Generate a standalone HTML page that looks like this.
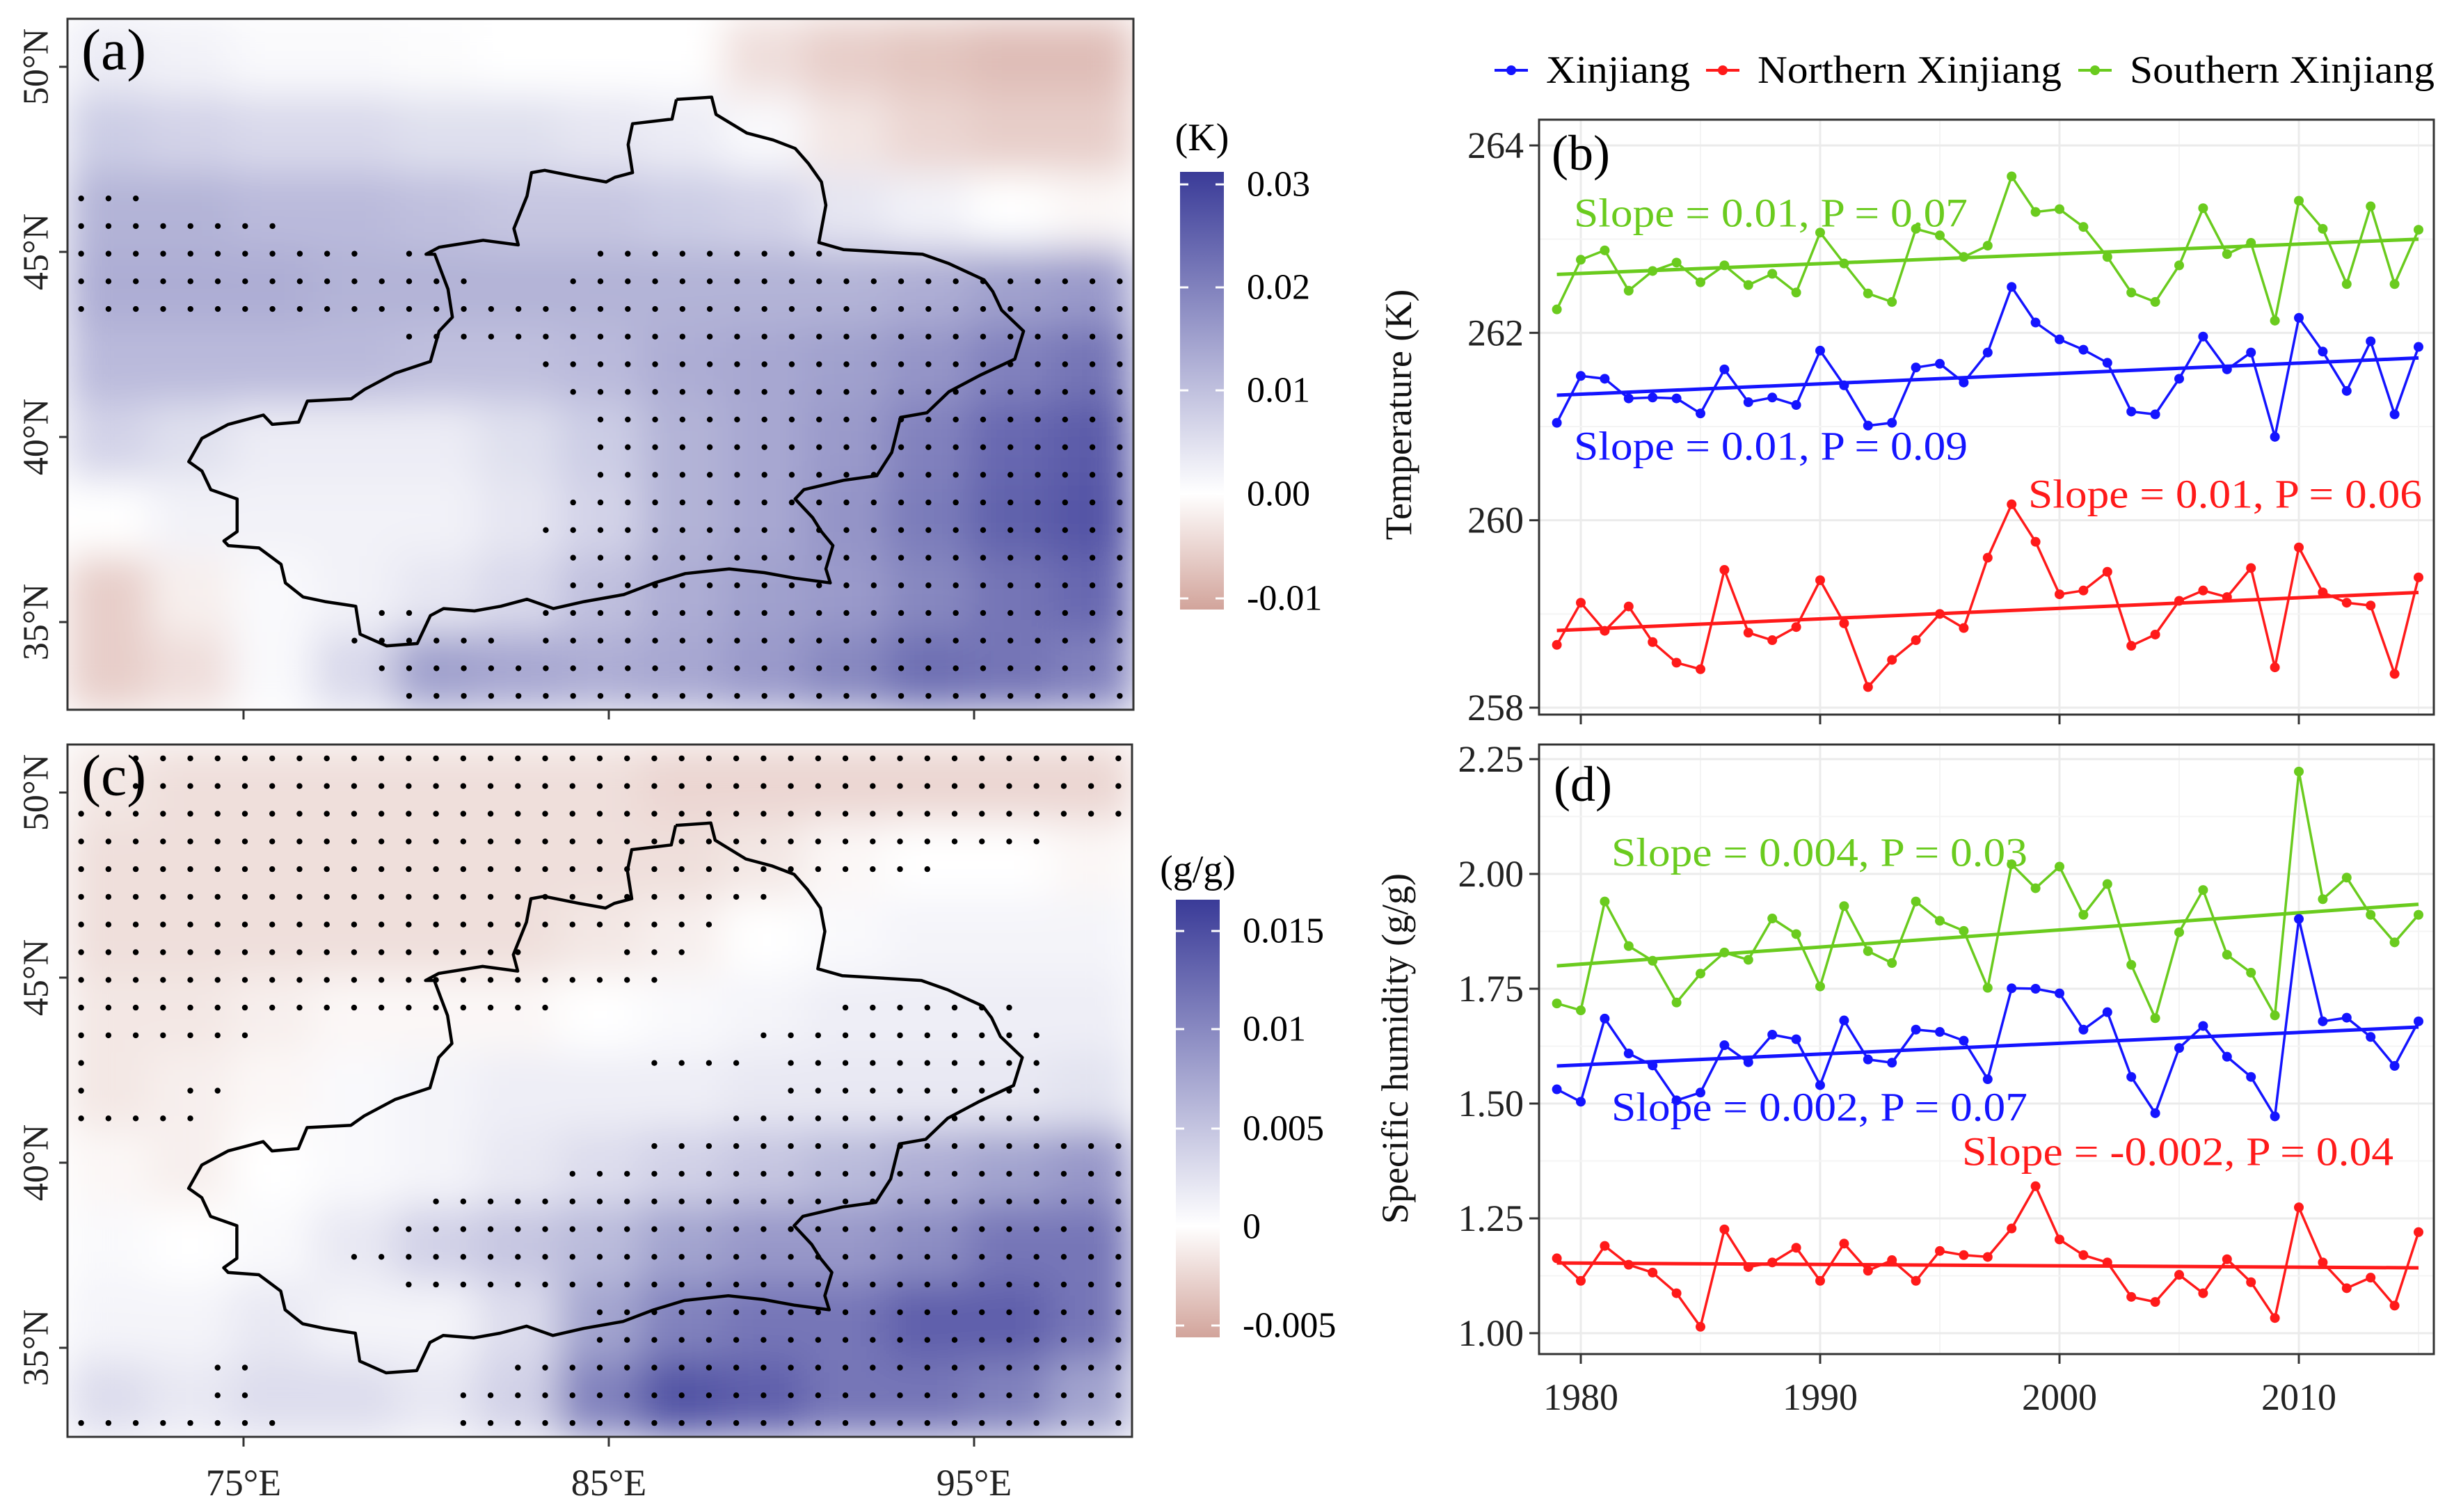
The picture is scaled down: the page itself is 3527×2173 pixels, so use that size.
<!DOCTYPE html>
<html><head><meta charset="utf-8"><style>
html,body{margin:0;padding:0;background:#fff;}
svg{display:block;font-family:"Liberation Serif",serif;}
</style></head><body>
<svg id="root" width="3527" height="2173" viewBox="0 0 3527 2173" xmlns="http://www.w3.org/2000/svg">
<defs>
<filter id="blurA" x="0" y="0" width="1" height="1" filterUnits="objectBoundingBox"><feGaussianBlur stdDeviation="28" edgeMode="duplicate"/></filter>
<clipPath id="clipA"><rect x="97" y="27" width="1532" height="993"/></clipPath>
<clipPath id="clipC"><rect x="97" y="1070" width="1530" height="995"/></clipPath>
<linearGradient id="gradA" x1="0" y1="0" x2="0" y2="1">
<stop offset="0" stop-color="#3a3b98"/><stop offset="0.735" stop-color="#ffffff"/><stop offset="1" stop-color="#d2a49b"/></linearGradient>
<linearGradient id="gradC" x1="0" y1="0" x2="0" y2="1">
<stop offset="0" stop-color="#3a3b98"/><stop offset="0.746" stop-color="#ffffff"/><stop offset="1" stop-color="#d2a49b"/></linearGradient>
</defs>
<g id="mapA"></g>
<g id="mapC"></g>
<g id="chartB"></g>
<g id="chartD"></g>
<g id="legend"></g>
</svg>
<script>
// ---------- data ----------
const years = [1979,1980,1981,1982,1983,1984,1985,1986,1987,1988,1989,1990,1991,1992,1993,1994,1995,1996,1997,1998,1999,2000,2001,2002,2003,2004,2005,2006,2007,2008,2009,2010,2011,2012,2013,2014,2015];
const tempSouth = [262.25,262.78,262.88,262.45,262.66,262.75,262.54,262.72,262.51,262.63,262.43,263.07,262.74,262.42,262.33,263.11,263.04,262.81,262.93,263.67,263.29,263.32,263.13,262.81,262.43,262.33,262.72,263.33,262.84,262.96,262.13,263.41,263.11,262.52,263.35,262.52,263.10];
const tempXj = [261.04,261.54,261.51,261.30,261.31,261.30,261.14,261.61,261.26,261.31,261.23,261.81,261.44,261.01,261.04,261.63,261.67,261.47,261.79,262.49,262.11,261.93,261.82,261.68,261.16,261.13,261.51,261.96,261.61,261.79,260.89,262.16,261.80,261.38,261.91,261.13,261.85];
const tempNorth = [258.67,259.12,258.82,259.08,258.70,258.48,258.41,259.47,258.80,258.72,258.86,259.36,258.90,258.22,258.51,258.72,259.00,258.85,259.60,260.17,259.77,259.21,259.25,259.45,258.66,258.78,259.14,259.25,259.18,259.49,258.43,259.71,259.23,259.12,259.09,258.36,259.39];
const humSouth = [1.718,1.703,1.940,1.843,1.811,1.720,1.783,1.829,1.813,1.903,1.869,1.755,1.930,1.832,1.806,1.940,1.898,1.876,1.752,2.021,1.969,2.016,1.911,1.978,1.802,1.686,1.873,1.965,1.824,1.785,1.692,2.223,1.945,1.992,1.911,1.851,1.911];
const humXj = [1.531,1.504,1.685,1.609,1.583,1.507,1.524,1.627,1.590,1.650,1.640,1.540,1.681,1.596,1.589,1.661,1.656,1.637,1.553,1.751,1.750,1.740,1.661,1.699,1.558,1.479,1.621,1.669,1.602,1.558,1.472,1.902,1.679,1.687,1.645,1.582,1.679];
const humNorth = [1.163,1.114,1.190,1.149,1.132,1.087,1.014,1.226,1.144,1.154,1.186,1.114,1.195,1.136,1.159,1.114,1.179,1.170,1.166,1.228,1.320,1.204,1.170,1.154,1.079,1.068,1.127,1.087,1.161,1.111,1.033,1.274,1.154,1.098,1.121,1.060,1.220];
const tempTicks = [258,260,262,264];
const humTicks = [1.00,1.25,1.50,1.75,2.00,2.25];
const humTickLabels = ["1.00","1.25","1.50","1.75","2.00","2.25"];
const yearTicks = [1980,1990,2000,2010];
// map coarse grids (13 cols x 9 rows, north to south)
const gridA = [
[0.003,0.002,0.001,0.001,0.0005,0,0,0,-0.004,-0.006,-0.007,-0.008,-0.008],
[0.008,0.007,0.006,0.006,0.005,0.005,0.004,0.003,0.001,-0.003,-0.005,-0.006,-0.006],
[0.012,0.012,0.011,0.011,0.010,0.009,0.009,0.008,0.007,0.004,0.002,0.000,-0.001],
[0.013,0.013,0.013,0.012,0.012,0.012,0.012,0.012,0.012,0.012,0.013,0.015,0.016],
[0.011,0.011,0.011,0.011,0.010,0.010,0.011,0.013,0.014,0.015,0.017,0.020,0.022],
[0.007,0.005,0.003,0.003,0.003,0.005,0.008,0.012,0.014,0.016,0.020,0.024,0.026],
[0.000,0.002,0.002,0.002,0.002,0.004,0.007,0.012,0.014,0.017,0.021,0.025,0.027],
[-0.006,-0.002,0.001,0.002,0.004,0.006,0.010,0.013,0.015,0.016,0.019,0.022,0.024],
[-0.006,-0.004,0.001,0.006,0.015,0.014,0.013,0.014,0.016,0.019,0.023,0.022,0.020]];
const gridC = [
[-0.0015,-0.002,-0.002,-0.002,-0.002,-0.002,-0.002,-0.0025,-0.0025,-0.0025,-0.0025,-0.0025,-0.0025],
[-0.002,-0.002,-0.002,-0.002,-0.002,-0.002,-0.002,-0.002,-0.0015,-0.0005,0,0,-0.0005],
[-0.002,-0.002,-0.002,-0.002,-0.002,-0.002,-0.0015,-0.001,0,0.0005,0.001,0.001,0.001],
[-0.0015,-0.0015,-0.001,-0.0005,-0.0005,-0.0005,0,0.0005,0.001,0.0015,0.0015,0.0015,0.0015],
[-0.0015,-0.001,-0.0005,0.0005,0.001,0.0015,0.0015,0.0015,0.002,0.002,0.002,0.002,0.0025],
[-0.0005,-0.001,0,0.0005,0.001,0.002,0.003,0.004,0.005,0.006,0.007,0.008,0.009],
[0.0005,0,0.0005,0.002,0.004,0.005,0.006,0.008,0.009,0.009,0.010,0.012,0.012],
[0.001,0.001,0.002,0.001,0.001,0.003,0.008,0.011,0.012,0.012,0.014,0.014,0.012],
[0.003,0.002,0.003,0.003,0.002,0.004,0.011,0.015,0.014,0.012,0.012,0.011,0.008]];
// significance stippling: [row, startCol, endCol] on 39x25 grid
const sigA = [[6,0,2],[7,0,7],[8,0,10],[8,12,12],[8,19,27],[9,0,14],[9,18,38],[10,0,38],[11,12,38],[12,17,38],[13,18,38],[14,19,38],[15,19,38],[16,19,38],[17,18,38],[18,17,38],[19,18,38],[20,18,38],[21,11,12],[21,17,38],[22,10,15],[22,17,38],[23,11,38],[24,12,38]];
const sigC = [[0,2,38],[1,2,38],[2,0,38],[3,0,35],[4,0,31],[5,0,25],[6,0,23],[7,0,16],[7,20,22],[8,0,21],[9,0,17],[9,28,34],[10,0,6],[10,25,35],[11,0,0],[11,21,24],[11,26,35],[12,0,0],[12,4,5],[12,26,35],[13,0,4],[13,24,35],[14,21,38],[15,18,38],[16,13,38],[17,12,38],[18,10,38],[19,12,38],[20,19,38],[21,19,38],[22,5,6],[22,16,38],[23,5,6],[23,14,38],[24,0,7],[24,14,38]];
const borderPts = [[770,213],[810,208],[815,245],[850,285],[880,300],[905,318],[920,350],[935,390],[940,440],[932,520],[960,535],[1050,545],[1080,565],[1120,600],[1130,625],[1140,665],[1165,710],[1155,770],[1115,805],[1080,840],[1055,885],[1025,895],[1015,970],[998,1020],[960,1030],[915,1050],[905,1070],[925,1110],[935,1140],[948,1170],[940,1220],[945,1250],[905,1240],[870,1228],[830,1220],[780,1230],[745,1250],[710,1275],[665,1290],[630,1305],[600,1285],[570,1300],[540,1310],[505,1305],[490,1320],[475,1380],[440,1385],[410,1360],[405,1300],[370,1290],[345,1280],[325,1250],[320,1210],[295,1175],[260,1170],[255,1160],[270,1140],[270,1070],[240,1050],[230,1010],[215,990],[230,940],[260,910],[280,900],[300,890],[310,910],[340,905],[350,860],[400,855],[415,835],[450,800],[490,775],[500,710],[515,680],[510,620],[495,545],[485,545],[500,530],[550,515],[590,525],[585,490],[600,420],[605,370],[620,365],[660,380],[690,390],[700,380],[720,370],[715,310],[720,265],[765,255],[770,213]];

// ---------- helpers ----------
const NS = "http://www.w3.org/2000/svg";
function mk(tag, attrs, parent){const e=document.createElementNS(NS,tag);for(const k in attrs)e.setAttribute(k,attrs[k]);if(parent)parent.appendChild(e);return e;}
function txt(parent, x, y, s, size, fill, anchor, extra){const t=mk('text',Object.assign({x:x,y:y,'font-size':size,fill:fill||'#000','text-anchor':anchor||'start','dominant-baseline':'central'},extra||{}),parent);t.textContent=s;return t;}
function mix(a,b,t){return [0,1,2].map(i=>Math.round(a[i]+(b[i]-a[i])*t));}
function colorFor(v,vmin,vmax){const W=[255,255,255],B=[58,59,152],R=[210,164,155];let c;if(v>=0)c=mix(W,B,Math.min(1,v/vmax));else c=mix(W,R,Math.min(1,v/vmin));return 'rgb('+c.join(',')+')';}

// ---------- maps ----------
function drawMap(g, L, T, W, H, grid, vmin, vmax, sig, clipId, label){
  const cl = mk('g',{'clip-path':'url(#'+clipId+')'},g);
  const cells = mk('g',{filter:'url(#blurA)'},cl);
  const nr=grid.length, nc=grid[0].length, cw=W/nc, ch=H/nr;
  grid.forEach((row,r)=>row.forEach((v,c)=>{
    const rc=mk('rect',{x:L+c*cw-0.5,y:T+r*ch-0.5,width:cw+1,height:ch+1,fill:colorFor(v,vmin,vmax)},cells);
    
    
  }));
  const dw=W/39, dh=H/25;
  const dots=mk('g',{},cl);
  
  
  sig.forEach(s=>{for(let c=s[1];c<=s[2];c++){mk('circle',{cx:L+(c+0.5)*dw,cy:T+(s[0]+0.5)*dh,r:4.2,fill:'#000'},dots);}});
  const pts=borderPts.map(p=>[L+(p[0]-77)/1213*W, T+(p[1]-40)/1482*H]);
  const b=mk('polyline',{points:pts.map(p=>p[0].toFixed(1)+','+p[1].toFixed(1)).join(' '),fill:'none',stroke:'#000','stroke-width':4.5,'stroke-linejoin':'round'},g);
  
  
  mk('rect',{x:L,y:T,width:W,height:H,fill:'none',stroke:'#333','stroke-width':3},g);
  const lab=txt(g,L+20,T+45,label,84,'#000','start');
  
  
  const latY=[[50,69],[45,335],[40,601],[35,867]];
  latY.forEach(d=>{const y=T+d[1];mk('line',{x1:L-12,y1:y,x2:L,y2:y,stroke:'#333','stroke-width':3},g);
    const t=txt(g,0,0,d[0]+'°N',52,'#222','middle',{transform:'translate(52,'+y+') rotate(-90)'});
    
    });
  [350,875,1400].forEach(x=>mk('line',{x1:x,y1:T+H,x2:x,y2:T+H+14,stroke:'#333','stroke-width':3},g));
}
drawMap(document.getElementById('mapA'),97,27,1532,993,gridA,-0.0111,0.0312,sigA,'clipA','(a)');
drawMap(document.getElementById('mapC'),97,1070,1530,995,gridC,-0.0056,0.0172,sigC,'clipC','(c)');
(function(){const g=document.getElementById('mapC');
 [['75°E',350],['85°E',875],['95°E',1400]].forEach(d=>{const t=txt(g,d[1],2131,d[0],54,'#222','middle');
 
 });})();

function colorbar(g, x, y, w, h, grad, title, titleY, ticks){
  const cb=mk('g',{},g);
  
  
  mk('rect',{x:x,y:y,width:w,height:h,fill:'url(#'+grad+')'},cb);
  txt(cb,x+w/2,titleY,title,56,'#000','middle');
  ticks.forEach(t=>{mk('line',{x1:x,y1:t[1],x2:x+12,y2:t[1],stroke:'#fff','stroke-width':3},cb);
    mk('line',{x1:x+w-12,y1:t[1],x2:x+w,y2:t[1],stroke:'#fff','stroke-width':3},cb);
    txt(cb,x+w+33,t[1],t[0],52,'#000','start');});
}
colorbar(document.getElementById('mapA'),1696,247,63,629,'gradA','(K)',198,[['0.03',265],['0.02',413],['0.01',561],['0.00',710],['-0.01',860]]);
colorbar(document.getElementById('mapC'),1690,1293,63,629,'gradC','(g/g)',1250,[['0.015',1338],['0.01',1479],['0.005',1622],['0',1763],['-0.005',1905]]);

// ---------- line charts ----------
const cGreen='#6acb1e', cRed='#ff1a1a', cBlue='#1414ff';
function fit(xs,ys){const n=xs.length;let mx=0,my=0;for(let i=0;i<n;i++){mx+=xs[i];my+=ys[i];}mx/=n;my/=n;let sxy=0,sxx=0;for(let i=0;i<n;i++){sxy+=(xs[i]-mx)*(ys[i]-my);sxx+=(xs[i]-mx)**2;}const b=sxy/sxx;return [my-b*mx,b];}
function chart(g, L, T, R, B, yScale, ticks, tickLabels, minorTicks, series, annots, label, labelPos, ylab, ylabPos, showYears){
  const xS=yr=>2272+(yr-1980)*34.4;
  yearTicks.forEach(yr=>{mk('line',{x1:xS(yr),y1:T,x2:xS(yr),y2:B,stroke:'#ebebeb','stroke-width':3},g);
    mk('line',{x1:xS(yr+5),y1:T,x2:xS(yr+5),y2:B,stroke:'#f4f4f4','stroke-width':2},g);});
  minorTicks.forEach(v=>mk('line',{x1:L,y1:yScale(v),x2:R,y2:yScale(v),stroke:'#f4f4f4','stroke-width':2},g));
  ticks.forEach((v,i)=>{mk('line',{x1:L,y1:yScale(v),x2:R,y2:yScale(v),stroke:'#ebebeb','stroke-width':3},g);
    mk('line',{x1:L-14,y1:yScale(v),x2:L,y2:yScale(v),stroke:'#333','stroke-width':3},g);
    const t=txt(g,L-22,yScale(v),tickLabels[i],54,'#222','end');
    
    });
  yearTicks.forEach(yr=>{mk('line',{x1:xS(yr),y1:B,x2:xS(yr),y2:B+14,stroke:'#333','stroke-width':3},g);
    if(showYears){const t=txt(g,xS(yr),B+62,String(yr),54,'#222','middle');
    
    }});
  series.forEach(s=>{
    const sg=mk('g',{},g);
    
    
    const f=fit(years,s.vals);
    const tl=mk('line',{x1:xS(1979),y1:yScale(f[0]+f[1]*1979),x2:xS(2015),y2:yScale(f[0]+f[1]*2015),stroke:s.col,'stroke-width':5},sg);
    
    
    mk('polyline',{points:years.map((y,i)=>xS(y).toFixed(1)+','+yScale(s.vals[i]).toFixed(1)).join(' '),fill:'none',stroke:s.col,'stroke-width':3.5,'stroke-linejoin':'round'},sg);
    years.forEach((y,i)=>{const c=mk('circle',{cx:xS(y),cy:yScale(s.vals[i]),r:7,fill:s.col},sg);
      
      });
  });
  mk('rect',{x:L,y:T,width:R-L,height:B-T,fill:'none',stroke:'#333','stroke-width':3},g);
  annots.forEach(a=>{const t=txt(g,a[0],a[1],a[2],58,a[3],'start',{textLength:a[4],lengthAdjust:'spacingAndGlyphs'});
    
    });
  const pl=txt(g,labelPos[0],labelPos[1],label,72,'#000','middle');
  
  
  const yl=txt(g,0,0,ylab,54,'#111','middle',{transform:'translate('+ylabPos[0]+','+ylabPos[1]+') rotate(-90)'});
  
  
}
chart(document.getElementById('chartB'),2212,172,3498,1027,v=>209+(264-v)*134.67,tempTicks,tempTicks.map(String),[259,261,263],
  [{name:'series-southern-xinjiang',vals:tempSouth,col:cGreen},{name:'series-xinjiang',vals:tempXj,col:cBlue},{name:'series-northern-xinjiang',vals:tempNorth,col:cRed}],
  [[2262,306,'Slope = 0.01, P = 0.07',cGreen,566],[2262,641,'Slope = 0.01, P = 0.09',cBlue,566],[2915,710,'Slope = 0.01, P = 0.06',cRed,566]],
  '(b)',[2272,220],'Temperature (K)',[2010,596],false);
chart(document.getElementById('chartD'),2212,1070,3498,1946,v=>1091+(2.25-v)*660,humTicks,humTickLabels,[1.125,1.375,1.625,1.875,2.125],
  [{name:'series-southern-xinjiang',vals:humSouth,col:cGreen},{name:'series-xinjiang',vals:humXj,col:cBlue},{name:'series-northern-xinjiang',vals:humNorth,col:cRed}],
  [[2316,1225,'Slope = 0.004, P = 0.03',cGreen,598],[2316,1591,'Slope = 0.002, P = 0.07',cBlue,598],[2820,1655,'Slope = -0.002, P = 0.04',cRed,620]],
  '(d)',[2275,1127],'Specific humidity (g/g)',[2005,1507],true);

// legend
(function(){const g=document.getElementById('legend');
 [[2148,'Xinjiang',cBlue,207],[2452,'Northern Xinjiang',cRed,437],[2987,'Southern Xinjiang',cGreen,438]].forEach(d=>{
  const e=mk('g',{},g);
  
  
  mk('line',{x1:d[0],y1:101,x2:d[0]+48,y2:101,stroke:d[2],'stroke-width':4},e);
  mk('circle',{cx:d[0]+24,cy:101,r:7,fill:d[2]},e);
  txt(e,d[0]+74,101,d[1],56,'#000','start',{textLength:d[3],lengthAdjust:'spacingAndGlyphs'});
 });})();
</script>
</body></html>
